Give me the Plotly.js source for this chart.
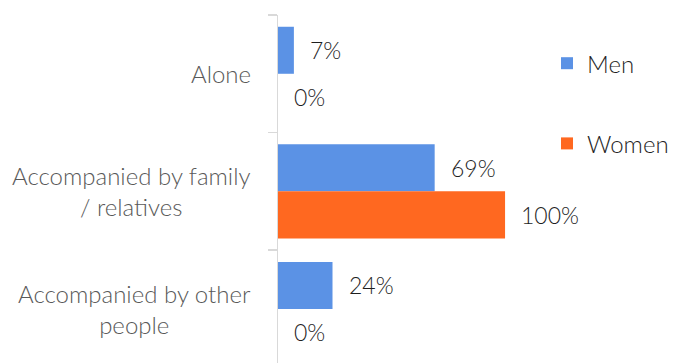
<!DOCTYPE html>
<html>
<head>
<meta charset="utf-8">
<script src="https://cdn.plot.ly/plotly-3.0.1.min.js"></script>
<style>html,body{margin:0;padding:0;background:#fff;}#chart{width:674px;height:363px;}</style>
</head>
<body>
<div id="chart"></div>
<script>
// ---- data ----
const categories = ['Alone', 'Accompanied by family / relatives', 'Accompanied by other people'];
const categoryLabels = ['Alone', 'Accompanied by family<br>/ relatives', 'Accompanied by other<br>people'];
const seriesNames = ['Men', 'Women'];
const menValues = [7, 69, 24];
const womenValues = [0, 100, 0];

// ---- styles ----
const FONT = 'Lato, "Open Sans", sans-serif';
const colors = ['#5B92E5', '#FF6820'];

const traces = [
  {type: 'bar', orientation: 'h', name: seriesNames[0], y: categories, x: menValues,
   marker: {color: colors[0], line: {width: 0}}, legendgroup: 'a', hoverinfo: 'x'},
  {type: 'bar', orientation: 'h', name: seriesNames[1], y: categories, x: womenValues,
   marker: {color: colors[1], line: {width: 0}}, legendgroup: 'b', hoverinfo: 'x'}
];

const annotations = [];
categories.forEach((c, i) => {
  annotations.push({xref: 'paper', yref: 'y', x: 0, y: c, xanchor: 'right', yanchor: 'middle',
    xshift: -25, text: categoryLabels[i], align: 'center', showarrow: false,
    font: {family: FONT, size: 24, weight: 300, color: '#595959'}});
});
[menValues, womenValues].forEach((vals, s) => {
  vals.forEach((v, i) => {
    annotations.push({xref: 'x', yref: 'y', x: v, y: i + (s === 0 ? -0.2 : 0.2),
      xanchor: 'left', yanchor: 'middle', xshift: 14, text: v + '%', showarrow: false,
      font: {family: FONT, size: 23, weight: 300, color: '#1f1f1f'}});
  });
});

const layout = {
  width: 674, height: 363,
  margin: {l: 278, r: 0, t: 15, b: 0},
  paper_bgcolor: '#ffffff', plot_bgcolor: '#ffffff',
  font: {family: FONT, size: 24, weight: 300, color: '#262626'},
  barmode: 'group', bargap: 0.2, bargroupgap: 0,
  xaxis: {range: [0, 174.4], visible: false, fixedrange: true},
  yaxis: {type: 'category', categoryorder: 'array', categoryarray: categories,
    range: [2.46, -0.5], showticklabels: false, ticks: 'outside', tickson: 'boundaries',
    ticklen: 9, tickcolor: '#d9d9d9', tickwidth: 1.5, showline: true, linecolor: '#d9d9d9',
    linewidth: 1.5, showgrid: false, zeroline: false, fixedrange: true},
  showlegend: true,
  legend: {x: 0.68, xanchor: 'left', y: 0.925, yanchor: 'top', traceorder: 'grouped',
    tracegroupgap: 46, font: {family: FONT, size: 24, weight: 300, color: '#1f1f1f'}, bgcolor: 'rgba(0,0,0,0)'},
  annotations: annotations
};

Plotly.newPlot('chart', traces, layout, {displayModeBar: false, staticPlot: true});
</script>
</body>
</html>
